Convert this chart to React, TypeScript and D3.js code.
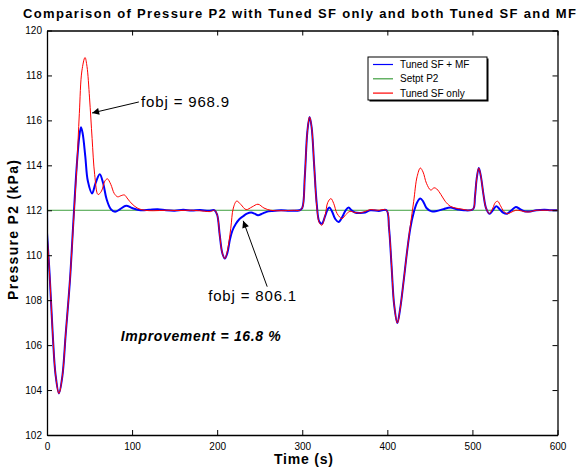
import { useEffect, useRef } from "react";
import * as d3 from "d3";

// Tuned SF + MF (blue)
const timeMF = [0, 3, 7, 10, 14, 18, 22, 27, 31, 35, 38, 40, 42, 45, 48, 53, 57, 62, 66, 70, 75, 80, 86, 93, 100, 110, 120, 130, 140, 150, 160, 170, 180, 190, 197, 200, 203, 206, 209, 212, 215, 218, 222, 226, 230, 235, 240, 244, 248, 253, 258, 265, 275, 285, 297, 300, 303, 306, 308.6, 311, 314, 317, 320, 323, 327, 330, 332, 335, 339, 342.7, 347, 351, 354.5, 358, 362, 368, 374, 380, 390, 399, 402, 405, 408, 411.8, 415, 419, 423, 427, 431, 435, 438.8, 442, 446, 452, 458, 466, 474, 482, 490, 500.8, 503, 505, 507.5, 510, 513, 516, 520, 524, 528, 532, 536, 540.8, 546, 551, 556, 562, 568, 575, 585, 592, 600];
const pressureMF = [111.0, 109.2, 106.3, 104.7, 103.85, 104.6, 106.5, 108.9, 111.5, 114.0, 115.3, 115.7, 115.4, 114.4, 113.3, 112.75, 113.2, 113.6, 113.2, 112.5, 112.05, 111.93, 112.05, 112.2, 112.1, 112.0, 112.02, 112.05, 112.0, 111.98, 112.02, 111.99, 112.01, 111.98, 112.0, 111.8, 110.9, 110.1, 109.85, 110.1, 110.7, 111.1, 111.4, 111.6, 111.72, 111.85, 111.9, 111.85, 111.78, 111.85, 111.93, 111.97, 112.0, 111.98, 112.0, 112.1, 113.5, 115.5, 116.15, 115.7, 114.0, 112.3, 111.5, 111.4, 111.75, 112.05, 112.12, 111.95, 111.6, 111.48, 111.7, 112.0, 112.12, 112.0, 111.9, 111.88, 111.9, 112.0, 111.97, 112.0, 111.2, 109.5, 107.8, 106.98, 107.6, 108.8, 110.1, 111.2, 111.9, 112.35, 112.52, 112.4, 112.1, 111.95, 111.97, 112.05, 112.12, 112.05, 112.0, 112.05, 112.6, 113.4, 113.88, 113.5, 112.7, 112.1, 111.85, 112.0, 112.18, 112.05, 111.9, 111.85, 112.0, 112.15, 112.05, 111.95, 111.95, 112.0, 112.02, 112.0, 112.0];

// Tuned SF only (red)
const timeSF = [0, 3, 7, 10, 14, 18, 22, 27, 31, 35, 38, 41, 44.7, 47, 50, 53, 56, 60, 64, 68, 71, 75, 79, 83, 87, 91, 95, 100, 107, 115, 125, 140, 155, 170, 185, 192, 197, 200, 203, 206, 209, 212, 216, 219, 223, 228, 234, 241, 248, 255, 263, 275, 290, 297, 300, 303, 306, 308.6, 311, 314, 317, 320, 323, 327, 330, 333.7, 337, 341, 346.7, 351, 356, 362, 368, 374, 380, 388, 399, 402, 405, 408, 411.8, 415, 419, 423, 427, 431, 435, 438.8, 442, 446, 451, 455, 458, 463, 468, 474, 480, 488, 495, 500.8, 503, 505, 507.5, 510, 513, 516, 520, 524, 527, 529.8, 533, 537, 540.8, 545, 551, 558, 565, 575, 585, 600];
const pressureSF = [111.0, 109.2, 106.3, 104.7, 103.85, 104.6, 106.5, 108.9, 111.4, 113.9, 116.3, 118.2, 118.8, 118.4, 117.0, 115.2, 113.6, 112.7, 112.85, 113.3, 113.4, 113.15, 112.75, 112.6, 112.65, 112.68, 112.5, 112.28, 112.08, 112.0, 111.98, 112.0, 111.99, 112.0, 111.96, 111.94, 112.0, 111.8, 110.9, 110.1, 109.85, 110.2, 111.2, 112.1, 112.41, 112.25, 112.03, 112.15, 112.27, 112.1, 112.0, 111.98, 112.0, 112.0, 112.1, 113.5, 115.5, 116.15, 115.7, 114.0, 112.2, 111.45, 111.33, 111.8, 112.35, 112.52, 112.3, 111.85, 111.63, 111.8, 111.95, 111.9, 111.88, 111.95, 112.03, 112.0, 112.0, 111.2, 109.5, 107.8, 106.98, 107.6, 108.8, 110.1, 111.3, 112.4, 113.5, 113.88, 113.7, 113.2, 112.9, 113.0, 112.95, 112.7, 112.4, 112.18, 112.1, 112.05, 112.0, 112.05, 112.6, 113.4, 113.88, 113.5, 112.7, 112.1, 111.85, 112.1, 112.35, 112.4, 112.2, 111.95, 111.85, 111.9, 112.0, 111.97, 111.92, 112.0, 112.0, 112.0];

// Setpoint (green)
const timeSetpt = [0, 600];
const pressureSetpt = [112, 112];

const xTicks = [0, 100, 200, 300, 400, 500, 600];
const yTicks = [102, 104, 106, 108, 110, 112, 114, 116, 118, 120];

const SERIES = [
  { label: "Tuned SF + MF", color: "#0000ff", width: 2, t: timeMF, v: pressureMF },
  { label: "Setpt P2", color: "#3f9f3f", width: 1, t: timeSetpt, v: pressureSetpt },
  { label: "Tuned SF only", color: "#ff0000", width: 1, t: timeSF, v: pressureSF },
];

const FONT = "Arial, 'Liberation Sans', sans-serif";

export default function App() {
  const ref = useRef<HTMLDivElement>(null);

  useEffect(() => {
    const container = d3.select(ref.current);
    container.selectAll("*").remove();

    const width = 579;
    const height = 472;
    const margin = { top: 30.5, right: 21.5, bottom: 37, left: 47 };

    const svg = container
      .append("svg")
      .attr("width", width)
      .attr("height", height)
      .style("display", "block")
      .style("font-family", FONT);

    const x = d3.scaleLinear().domain([0, 600]).range([margin.left, width - margin.right]);
    const y = d3.scaleLinear().domain([102, 120]).range([height - margin.bottom, margin.top]);

    svg.append("defs")
      .append("clipPath")
      .attr("id", "plot-clip")
      .append("rect")
      .attr("x", margin.left)
      .attr("y", margin.top)
      .attr("width", width - margin.left - margin.right)
      .attr("height", height - margin.top - margin.bottom);

    const marker = svg.select("defs")
      .append("marker")
      .attr("id", "arrowhead")
      .attr("viewBox", "0 0 10 10")
      .attr("refX", 10)
      .attr("refY", 5)
      .attr("markerWidth", 9)
      .attr("markerHeight", 7)
      .attr("markerUnits", "userSpaceOnUse")
      .attr("orient", "auto");
    marker.append("path").attr("d", "M0,0L10,5L0,10Z").attr("fill", "#000");

    // series: setpoint underneath, red drawn over the thicker blue
    const plot = svg.append("g").attr("clip-path", "url(#plot-clip)");
    const order = [SERIES[1], SERIES[0], SERIES[2]];
    order.forEach((s) => {
      const pts = s.t.map((t, i) => [t, s.v[i]] as [number, number]);
      const line = d3
        .line<[number, number]>()
        .x((d) => x(d[0]))
        .y((d) => y(d[1]))
        .curve(d3.curveCatmullRom.alpha(0.5));
      plot
        .append("path")
        .datum(pts)
        .attr("fill", "none")
        .attr("stroke", s.color)
        .attr("stroke-width", s.width)
        .attr("stroke-linejoin", "round")
        .attr("d", line);
    });

    // axes (ticks point inward)
    const bottom = svg
      .append("g")
      .attr("transform", `translate(0,${height - margin.bottom})`)
      .call(d3.axisBottom(x).tickValues(xTicks).tickSizeInner(-5).tickSizeOuter(0).tickPadding(8));
    const left = svg
      .append("g")
      .attr("transform", `translate(${margin.left},0)`)
      .call(d3.axisLeft(y).tickValues(yTicks).tickSizeInner(-5).tickSizeOuter(0).tickPadding(5));
    const top = svg
      .append("g")
      .attr("transform", `translate(0,${margin.top})`)
      .call(d3.axisTop(x).tickValues(xTicks).tickSizeInner(-5).tickSizeOuter(0).tickFormat(() => ""));
    const right = svg
      .append("g")
      .attr("transform", `translate(${width - margin.right},0)`)
      .call(d3.axisRight(y).tickValues(yTicks).tickSizeInner(-5).tickSizeOuter(0).tickFormat(() => ""));

    [bottom, left, top, right].forEach((g) => {
      g.selectAll("text").attr("font-size", 10).attr("font-family", FONT).attr("fill", "#000");
      g.selectAll("line").attr("stroke", "#000");
      g.select(".domain").attr("stroke", "#000").attr("stroke-width", 1.3);
    });

    // title and axis labels
    svg
      .append("text")
      .attr("x", 23)
      .attr("y", 18)
      .attr("font-size", 13)
      .attr("font-weight", "bold")
      .attr("textLength", 553)
      .attr("lengthAdjust", "spacing")
      .text("Comparison of Pressure P2 with Tuned SF only and both Tuned SF and MF");

    svg
      .append("text")
      .attr("x", 274)
      .attr("y", 464)
      .attr("font-size", 14)
      .attr("font-weight", "bold")
      .attr("textLength", 59)
      .attr("lengthAdjust", "spacing")
      .text("Time (s)");

    svg
      .append("text")
      .attr("transform", "translate(18,300) rotate(-90)")
      .attr("font-size", 14)
      .attr("font-weight", "bold")
      .attr("textLength", 140)
      .attr("lengthAdjust", "spacing")
      .text("Pressure P2 (kPa)");

    // annotations
    svg
      .append("line")
      .attr("x1", x(108))
      .attr("y1", y(116.82))
      .attr("x2", x(53))
      .attr("y2", y(116.33))
      .attr("stroke", "#000")
      .attr("marker-end", "url(#arrowhead)");
    svg
      .append("text")
      .attr("x", x(110.6))
      .attr("y", y(116.6))
      .attr("font-size", 15)
      .attr("textLength", 88)
      .attr("lengthAdjust", "spacing")
      .text("fobj = 968.9");

    svg
      .append("line")
      .attr("x1", x(258.8))
      .attr("y1", y(108.6))
      .attr("x2", x(230.6))
      .attr("y2", y(111.53))
      .attr("stroke", "#000")
      .attr("marker-end", "url(#arrowhead)");
    svg
      .append("text")
      .attr("x", x(189.4))
      .attr("y", y(107.98))
      .attr("font-size", 15)
      .attr("textLength", 88)
      .attr("lengthAdjust", "spacing")
      .text("fobj = 806.1");

    svg
      .append("text")
      .attr("x", x(86.7))
      .attr("y", y(106.2))
      .attr("font-size", 14)
      .attr("font-weight", "bold")
      .attr("font-style", "italic")
      .attr("textLength", 160)
      .attr("lengthAdjust", "spacing")
      .text("Improvement = 16.8 %");

    // legend
    const lg = svg.append("g").attr("transform", "translate(368,57)");
    lg.append("rect")
      .attr("x", 1.5)
      .attr("y", 1.5)
      .attr("width", 119)
      .attr("height", 43)
      .attr("fill", "#000");
    lg.append("rect")
      .attr("x", 0)
      .attr("y", 0)
      .attr("width", 119)
      .attr("height", 43)
      .attr("fill", "#fff")
      .attr("stroke", "#000")
      .attr("stroke-width", 1);
    SERIES.forEach((s, i) => {
      const yy = 7.5 + i * 14.3;
      lg.append("line")
        .attr("x1", 5)
        .attr("x2", 25)
        .attr("y1", yy)
        .attr("y2", yy)
        .attr("stroke", s.color)
        .attr("stroke-width", 1.2);
      lg.append("text")
        .attr("x", 32)
        .attr("y", yy + 3.5)
        .attr("font-size", 10)
        .text(s.label);
    });
  }, []);

  return <div ref={ref} style={{ position: "absolute", left: 0, top: 0 }} />;
}
